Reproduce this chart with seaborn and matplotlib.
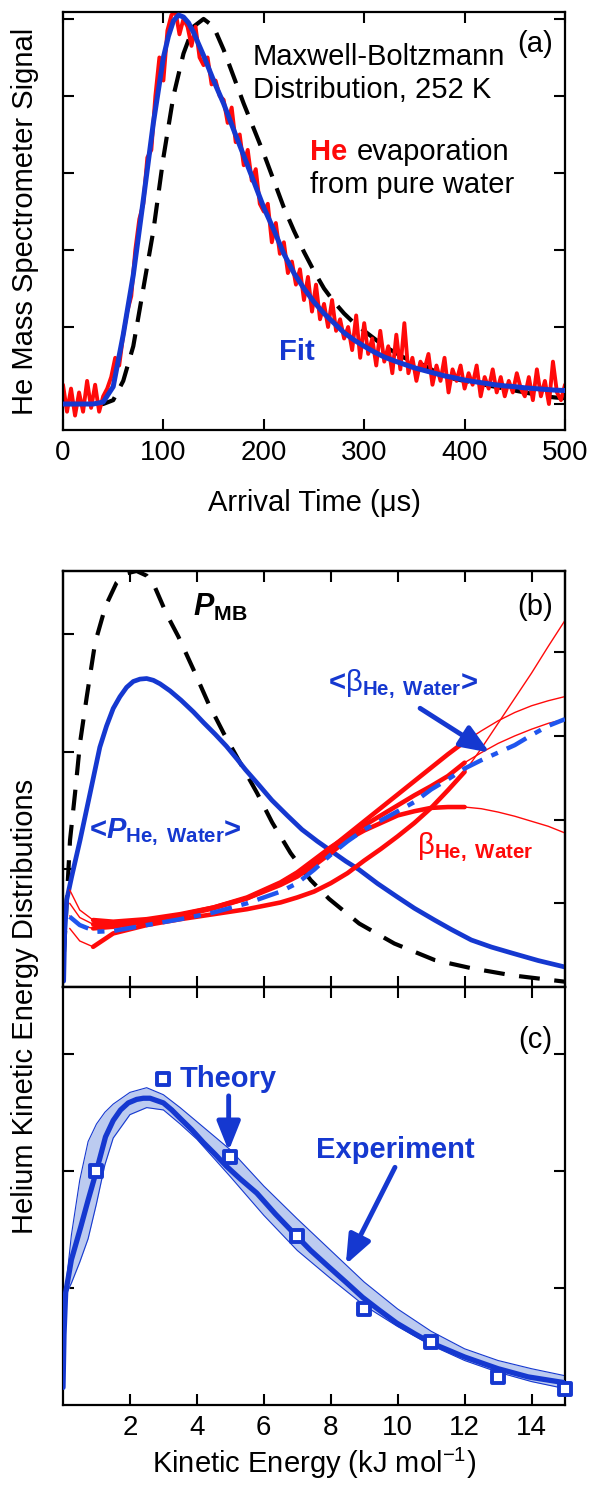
import numpy as np
import matplotlib
matplotlib.use("Agg")
import matplotlib.pyplot as plt
import seaborn as sns

# ---------------- data: panel (a) ----------------
t_fit = [0, 10, 20, 30, 40, 50, 60, 70, 80, 90, 100, 105, 110, 115, 120, 125, 130, 140, 150, 160,
         170, 180, 190, 200, 210, 220, 230, 240, 250, 260, 270, 280, 290, 300, 310, 320, 330, 340,
         350, 360, 370, 380, 390, 400, 410, 420, 430, 440, 450, 460, 470, 480, 490, 500]
fit_signal = [0.0, 0.0, 0.0, 0.0, 0.005, 0.045, 0.18, 0.335, 0.53, 0.73, 0.90, 0.955, 0.995, 1.01,
              1.005, 0.99, 0.965, 0.905, 0.84, 0.78, 0.712, 0.645, 0.578, 0.51, 0.452, 0.39, 0.34,
              0.30, 0.265, 0.235, 0.21, 0.185, 0.166, 0.15, 0.135, 0.122, 0.112, 0.103, 0.094,
              0.087, 0.08, 0.073, 0.068, 0.062, 0.058, 0.054, 0.05, 0.047, 0.045, 0.042, 0.04,
              0.038, 0.036, 0.035]
t_mb = [0, 10, 20, 30, 40, 50, 60, 70, 80, 90, 100, 110, 120, 130, 140, 150, 160, 170, 180, 190,
        200, 210, 220, 230, 240, 250, 260, 270, 280, 290, 300, 310, 320, 330, 340, 350, 360, 370,
        380, 390, 400, 410, 420, 430, 440, 450, 460, 470, 480, 490, 500]
mb_signal = [0.0, 0.0, 0.0, 0.0, 0.0, 0.01, 0.06, 0.15, 0.30, 0.45, 0.64, 0.80, 0.91, 0.98, 1.0,
             0.98, 0.92, 0.85, 0.78, 0.715, 0.65, 0.58, 0.51, 0.45, 0.395, 0.345, 0.30, 0.265,
             0.235, 0.21, 0.19, 0.17, 0.15, 0.135, 0.12, 0.11, 0.10, 0.085, 0.075, 0.065, 0.06,
             0.055, 0.05, 0.045, 0.04, 0.035, 0.03, 0.025, 0.02, 0.017, 0.015]
t_data = list(range(0, 501, 4))
he_signal = [
    0.05, -0.02, 0.04, -0.03, 0.03, -0.02, 0.06, -0.01, 0.05, -0.02,
    0.02, 0.04, 0.07, 0.12, 0.10, 0.18, 0.24, 0.28, 0.40, 0.48,
    0.52, 0.64, 0.66, 0.80, 0.90, 0.84, 0.97, 1.01, 1.02, 0.96,
    1.00, 0.98, 0.93, 0.98, 0.90, 0.88, 0.90, 0.83, 0.84, 0.80,
    0.79, 0.73, 0.77, 0.68, 0.70, 0.62, 0.66, 0.58, 0.61, 0.52,
    0.50, 0.52, 0.42, 0.47, 0.39, 0.42, 0.34, 0.37, 0.31, 0.35,
    0.27, 0.33, 0.24, 0.31, 0.22, 0.26, 0.20, 0.27, 0.19, 0.22,
    0.17, 0.20, 0.14, 0.23, 0.12, 0.21, 0.13, 0.17, 0.10, 0.19,
    0.11, 0.15, 0.08, 0.18, 0.09, 0.21, 0.08, 0.12, 0.06, 0.11,
    0.09, 0.13, 0.05, 0.10, 0.06, 0.12, 0.03, 0.09, 0.06, 0.10,
    0.04, 0.08, 0.05, 0.10, 0.02, 0.07, 0.04, 0.09, 0.03, 0.07,
    0.02, 0.06, 0.03, 0.08, 0.04, 0.02, 0.07, 0.01, 0.09, 0.02,
    0.06, 0.00, 0.11, 0.03, 0.01, 0.05]

# ---------------- data: panel (b) ----------------
e_mb = [0.03, 0.21, 0.36, 0.51, 0.71, 0.96, 1.27, 1.6, 1.9, 2.2, 2.5, 2.75, 3.1, 3.45, 3.9, 4.35,
        4.8, 5.25, 5.8, 6.25, 6.8, 7.4, 7.95, 8.85, 9.9, 11.1, 12.2, 13.4, 15.0]
p_mb = [0.3, 1.25, 1.65, 2.08, 2.47, 2.93, 3.24, 3.44, 3.52, 3.54, 3.50, 3.40, 3.17, 2.98, 2.70,
        2.41, 2.16, 1.93, 1.65, 1.40, 1.14, 0.91, 0.75, 0.54, 0.37, 0.23, 0.16, 0.10, 0.045]
e_p = [0.02, 0.05, 0.11, 0.26, 0.51, 0.81, 1.1, 1.3, 1.5, 1.7, 1.9, 2.1, 2.3, 2.5, 2.7, 2.9, 3.2,
       3.53, 3.9, 4.2, 4.55, 4.88, 5.2, 5.45, 5.85, 6.24, 6.7, 7.14, 7.6, 8.05, 8.45, 8.84, 9.4,
       9.97, 10.5, 11.1, 11.6, 12.2, 12.8, 13.4, 14.2, 15.0]
p_he_water = [0.05, 0.45, 0.74, 0.94, 1.25, 1.65, 2.04, 2.22, 2.37, 2.47, 2.55, 2.60, 2.62, 2.625,
              2.61, 2.58, 2.52, 2.44, 2.34, 2.25, 2.15, 2.05, 1.94, 1.85, 1.72, 1.59, 1.46, 1.34,
              1.24, 1.15, 1.07, 1.0, 0.88, 0.77, 0.67, 0.57, 0.49, 0.40, 0.34, 0.29, 0.225, 0.17]

e_beta = [0.2, 0.5, 0.9, 1.5, 2.5, 3.5, 4.5, 5.5, 6.5, 7.0, 7.5, 8.0, 8.5, 9.0, 9.5, 10.0, 10.5,
          11.0, 11.5, 12.0, 12.5, 13.0, 13.5, 14.0, 14.5, 15.0]
beta_1 = [1.16, 0.92, 0.80, 0.78, 0.81, 0.87, 0.95, 1.06, 1.24, 1.36, 1.50, 1.66, 1.82, 1.98, 2.14,
          2.30, 2.46, 2.62, 2.78, 2.93, 3.06, 3.18, 3.28, 3.36, 3.42, 3.47]
beta_2 = [1.00, 0.83, 0.75, 0.75, 0.79, 0.86, 0.95, 1.07, 1.25, 1.37, 1.52, 1.67, 1.80, 1.93, 2.05,
          2.17, 2.29, 2.40, 2.52, 2.68, 2.80, 2.91, 3.00, 3.08, 3.15, 3.20]
beta_3 = [0.70, 0.55, 0.48, 0.64, 0.74, 0.81, 0.87, 0.93, 1.01, 1.07, 1.14, 1.24, 1.36, 1.51, 1.65,
          1.80, 1.96, 2.14, 2.35, 2.57, 2.85, 3.15, 3.45, 3.75, 4.07, 4.38]
beta_4 = [0.85, 0.74, 0.70, 0.72, 0.78, 0.85, 0.94, 1.06, 1.22, 1.32, 1.45, 1.60, 1.76, 1.87, 1.96,
          2.05, 2.10, 2.14, 2.15, 2.15, 2.13, 2.09, 2.04, 1.98, 1.92, 1.84]
e_beta_avg = [0.2, 0.5, 1.0, 1.5, 2.5, 3.5, 4.5, 5.5, 6.5, 7.0, 7.5, 8.0, 8.5, 9.0, 9.5, 10.0, 10.5,
              11.0, 11.5, 12.0, 12.5, 13.0, 13.5, 14.0, 14.5, 15.0]
beta_avg = [0.84, 0.74, 0.66, 0.67, 0.74, 0.81, 0.89, 1.00, 1.14, 1.24, 1.40, 1.58, 1.74, 1.88, 1.99,
            2.10, 2.21, 2.36, 2.48, 2.61, 2.71, 2.80, 2.89, 3.01, 3.12, 3.20]

# ---------------- data: panel (c) ----------------
e_exp = [0.0, 0.03, 0.08, 0.25, 0.53, 0.75, 1.0, 1.27, 1.5, 1.72, 1.95, 2.2, 2.4, 2.6, 2.8, 3.0,
         3.25, 3.53, 3.85, 4.2, 4.55, 4.88, 5.3, 5.79, 6.35, 6.92, 7.4, 7.94, 8.45, 8.95, 9.45,
         9.97, 10.5, 11.0, 11.5, 12.0, 12.5, 13.0, 13.9, 15.0]
p_exp = [0.15, 0.6, 0.96, 1.24, 1.52, 1.75, 2.00, 2.29, 2.43, 2.52, 2.58, 2.61, 2.62, 2.62, 2.60,
         2.58, 2.52, 2.44, 2.35, 2.24, 2.14, 2.04, 1.93, 1.81, 1.63, 1.46, 1.32, 1.18, 1.05, 0.92,
         0.81, 0.70, 0.61, 0.53, 0.47, 0.41, 0.36, 0.31, 0.24, 0.19]
e_band = [0.1, 0.25, 0.5, 0.75, 1.0, 1.25, 1.5, 2.0, 2.5, 3.0, 3.5, 4.0, 5.0, 6.0, 7.0, 8.0, 9.0,
          10.0, 11.0, 12.0, 13.0, 14.0, 15.0]
band_upper = [1.05, 1.45, 1.92, 2.25, 2.40, 2.50, 2.57, 2.67, 2.71, 2.65, 2.54, 2.42, 2.18, 1.87,
              1.59, 1.32, 1.05, 0.82, 0.63, 0.48, 0.38, 0.31, 0.25]
band_lower = [0.95, 1.04, 1.22, 1.42, 1.72, 2.05, 2.28, 2.48, 2.54, 2.52, 2.40, 2.27, 1.95, 1.62,
              1.32, 1.08, 0.85, 0.67, 0.51, 0.38, 0.28, 0.20, 0.14]
e_theory = [1, 3, 5, 7, 9, 11, 13, 15]
p_theory = [2.00, 2.78, 2.12, 1.44, 0.82, 0.54, 0.24, 0.14]

a_xticks = [0, 100, 200, 300, 400, 500]
e_xticks = [2, 4, 6, 8, 10, 12, 14]

# ---------------- style ----------------
sns.set_theme(style="ticks")
plt.rcParams["font.family"] = ["Liberation Sans", "DejaVu Sans"]
plt.rcParams["mathtext.fontset"] = "custom"
plt.rcParams["mathtext.rm"] = "Liberation Sans"
plt.rcParams["mathtext.it"] = "Liberation Sans:italic"
plt.rcParams["mathtext.bf"] = "Liberation Sans:bold"
plt.rcParams["mathtext.bfit"] = "Liberation Sans:bold:italic"
plt.rcParams["mathtext.sf"] = "Liberation Sans"
plt.rcParams["axes.linewidth"] = 1.6
plt.rcParams["axes.edgecolor"] = "black"
plt.rcParams["text.color"] = "black"
plt.rcParams["axes.labelcolor"] = "black"
plt.rcParams["xtick.color"] = "black"
plt.rcParams["ytick.color"] = "black"

RED = "#ff0a0a"
BLUE = "#1538d0"
BLUE2 = "#1f55ee"
FILL = "#bccbf0"
FS = 21

W, H = 592, 1487
fig = plt.figure(figsize=(W / 100, H / 100), dpi=100)
L = 63 / W
AW = 502 / W
axa = fig.add_axes([L, 1 - 430 / H, AW, 418 / H])
axb = fig.add_axes([L, 1 - 987 / H, AW, 416 / H])
axc = fig.add_axes([L, 1 - 1405 / H, AW, 418 / H])

def style_ticks(ax, **kw):
    ax.tick_params(direction="in", length=8, width=1.5, labelsize=20, pad=7,
                   colors="black", **kw)

# ---------------- panel (a) ----------------
l, = axa.plot(t_mb, mb_signal, color="black", lw=3.0, zorder=1)
l.set_dashes((5, 3))
sns.lineplot(x=t_data, y=he_signal, ax=axa, color=RED, lw=2.8, zorder=2)
sns.lineplot(x=t_fit, y=fit_signal, ax=axa, color=BLUE, lw=3.6, zorder=3)
axa.set_xlim(0, 500)
axa.set_ylim(-0.0675, 1.018)
axa.set_xticks(a_xticks)
axa.set_yticks([0, 0.2, 0.4, 0.6, 0.8, 1.0])
axa.set_yticklabels([])
style_ticks(axa, top=True, right=True, left=True, bottom=True)
axa.set_xlabel("")
axa.set_ylabel("")
axa.text(189, 0.902, "Maxwell-Boltzmann", fontsize=FS, va="center", ha="left")
axa.text(189, 0.816, "Distribution, 252 K", fontsize=FS, va="center", ha="left")
axa.text(470, 0.935, "(a)", fontsize=FS, va="center", ha="center")
axa.text(245.7, 0.655, "He", fontsize=FS, fontweight="bold", color=RED, va="center", ha="left")
axa.text(292.5, 0.655, "evaporation", fontsize=FS, va="center", ha="left")
axa.text(245.7, 0.569, "from pure water", fontsize=FS, va="center", ha="left")
axa.text(215.5, 0.136, "Fit", fontsize=FS, fontweight="bold", color=BLUE, va="center", ha="left")
fig.text(314 / W, 1 - 503 / H, "Arrival Time (\u03bcs)", fontsize=FS, ha="center", va="center")
fig.text(25 / W, 1 - 221 / H, "He Mass Spectrometer Signal", fontsize=FS, rotation=90,
         ha="center", va="center")

# ---------------- panel (b) ----------------
l, = axb.plot(e_mb, p_mb, color="black", lw=3.0, zorder=2)
l.set_dashes((5, 3.5))
sns.lineplot(x=e_p, y=p_he_water, ax=axb, color=BLUE, lw=3.4, zorder=3)
axb.set_xlim(0, 15)
axb.set_ylim(0, 3.54)
axb2 = axb.twinx()
for yv in (beta_1, beta_2, beta_3, beta_4):
    axb2.plot(e_beta, yv, color=RED, lw=1.0, zorder=2)
    xs = [x for x in e_beta if 0.9 <= x <= 12.0]
    ys = [y for x, y in zip(e_beta, yv) if 0.9 <= x <= 12.0]
    sns.lineplot(x=xs, y=ys, ax=axb2, color=RED, lw=3.3, zorder=3)
l, = axb2.plot(e_beta_avg, beta_avg, color=BLUE2, lw=3.2, zorder=4)
l.set_dashes((5, 2.2, 1.6, 2.2))
axb2.set_ylim(0, 4.97)
axb2.set_xlim(0, 15)
axb2.set_yticks([1, 2, 3, 4])
axb2.set_yticklabels([])
axb2.set_ylabel("")
axb2.tick_params(axis="y", direction="in", length=8, width=1.5, right=True, left=False)
axb.set_xticks(e_xticks)
axb.set_yticks([1, 2, 3])
axb.set_yticklabels([])
axb.set_xticklabels([])
style_ticks(axb, top=True, bottom=True, left=True, right=False, labelbottom=False)
axb.set_xlabel("")
axb.set_ylabel("")

axb.text(3.88, 3.23, r"$\mathbfit{P}_{\mathbf{MB}}$", fontsize=FS + 1, va="center", ha="left")
axb.text(14.1, 3.23, "(b)", fontsize=FS, va="center", ha="center")
axb.text(0.78, 1.32, r"<$\mathbfit{P}_{\mathbf{He,\ Water}}$>", fontsize=FS, fontweight="bold",
         color=BLUE, va="center", ha="left")
axb2.text(7.93, 3.62, r"<$\mathrm{\beta}_{\mathbf{He,\ Water}}$>", fontsize=FS, fontweight="bold",
          color=BLUE, va="center", ha="left")
axb2.text(10.57, 1.67, r"$\mathrm{\beta}_{\mathbf{He,\ Water}}$", fontsize=FS, color=RED,
          va="center", ha="left")
axb2.annotate("", xy=(12.75, 2.80), xytext=(10.67, 3.33),
              arrowprops=dict(arrowstyle="-|>,head_length=0.8,head_width=0.32", lw=3.5,
                              color=BLUE, mutation_scale=22, shrinkA=0, shrinkB=0))

# ---------------- panel (c) ----------------
axc.fill_between(e_band, band_lower, band_upper, color=FILL, lw=0, zorder=1)
sns.lineplot(x=e_band, y=band_upper, ax=axc, color=BLUE, lw=0.8, zorder=2)
sns.lineplot(x=e_band, y=band_lower, ax=axc, color=BLUE, lw=0.8, zorder=2)
sns.lineplot(x=e_exp, y=p_exp, ax=axc, color=BLUE, lw=3.8, zorder=3)
sns.scatterplot(x=e_theory, y=p_theory, ax=axc, marker="s", s=70, facecolor="white",
                edgecolor=BLUE, linewidth=2.8, zorder=5, clip_on=False)
axc.set_xlim(0, 15)
axc.set_ylim(0, 3.57)
axc.set_xticks(e_xticks)
axc.set_yticks([1, 2, 3])
axc.set_yticklabels([])
style_ticks(axc, top=True, bottom=True, left=True, right=True)
axc.set_xlabel("")
axc.set_ylabel("")
axc.text(14.1, 3.12, "(c)", fontsize=FS, va="center", ha="center")
axc.text(3.48, 2.78, "Theory", fontsize=FS, fontweight="bold", color=BLUE, va="center", ha="left")
axc.text(9.92, 2.18, "Experiment", fontsize=FS, fontweight="bold", color=BLUE, va="center",
         ha="center")
axc.annotate("", xy=(4.95, 2.17), xytext=(4.95, 2.64),
             arrowprops=dict(arrowstyle="-|>,head_length=0.8,head_width=0.32", lw=3.5,
                             color=BLUE, mutation_scale=22, shrinkA=0, shrinkB=0))
axc.annotate("", xy=(8.45, 1.20), xytext=(9.92, 2.03),
             arrowprops=dict(arrowstyle="-|>,head_length=0.8,head_width=0.32", lw=3.5,
                             color=BLUE, mutation_scale=22, shrinkA=0, shrinkB=0))

fig.text(314 / W, 1 - 1463 / H, r"Kinetic Energy (kJ mol$^{-1}$)", fontsize=FS, ha="center",
         va="center")
fig.text(25 / W, 1 - 1006 / H, "Helium Kinetic Energy Distributions", fontsize=FS, rotation=90,
         ha="center", va="center")

for ax in (axa, axb, axb2, axc):
    for s in ax.spines.values():
        s.set_linewidth(1.6)
        s.set_color("black")

fig.savefig("out.png", dpi=100, facecolor="white")
